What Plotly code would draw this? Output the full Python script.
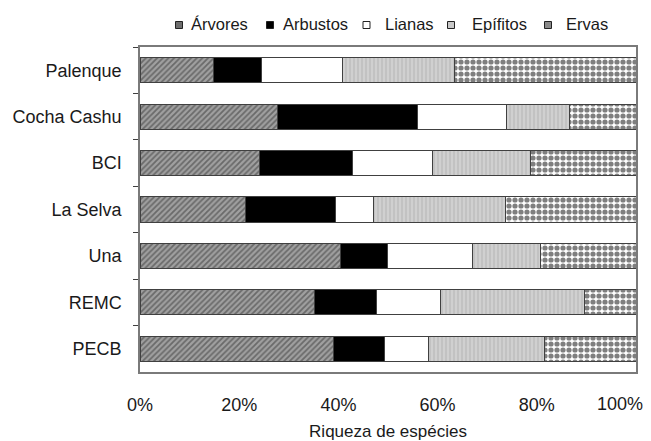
import plotly.graph_objects as go

sites = ["Palenque", "Cocha Cashu", "BCI", "La Selva", "Una", "REMC", "PECB"]
arvores = [14.8, 27.7, 24.0, 21.2, 40.4, 35.2, 39.0]
arbustos = [9.7, 28.3, 18.8, 18.2, 9.4, 12.4, 10.3]
lianas = [16.4, 17.9, 16.2, 7.6, 17.2, 12.9, 8.9]
epifitos = [22.6, 12.6, 19.8, 26.6, 13.8, 29.1, 23.3]
ervas = [36.5, 13.5, 21.2, 26.4, 19.2, 10.4, 18.5]
x_ticks = [0, 20, 40, 60, 80, 100]
x_ticktext = ["0%", "20%", "40%", "60%", "80%", "100%"]

names = ["Árvores", "Arbustos", "Lianas", "Epífitos", "Ervas"]
values = [arvores, arbustos, lianas, epifitos, ervas]
patterns = [
    dict(shape="/", fgcolor="#333333", bgcolor="#a0a0a0", size=4, solidity=0.45),
    dict(shape="", fgcolor="#000000", bgcolor="#000000"),
    dict(shape="", fgcolor="#ffffff", bgcolor="#ffffff"),
    dict(shape="|", fgcolor="#a8a8a8", bgcolor="#d0d0d0", size=4, solidity=0.35),
    dict(shape=".", fgcolor="#000000", bgcolor="#ffffff", size=6, solidity=0.6),
]
base_colors = ["#a0a0a0", "#000000", "#ffffff", "#d0d0d0", "#ffffff"]
legend_fill = ["#6e6e6e", "#000000", "#ffffff", "#c8c8c8", "#8a8a8a"]

W, H = 643, 433
ML, MR, MT, MB = 132, 15, 39, 69
PW, PH = W - ML - MR, H - MT - MB

fig = go.Figure()
for name, vals, pat, col in zip(names, values, patterns, base_colors):
    fig.add_trace(go.Bar(
        y=sites, x=vals, name=name, orientation="h", width=0.54,
        marker=dict(color=col, pattern=pat, line=dict(color="#404040", width=1)),
        showlegend=False,
    ))

# manual compact legend (figure pixel positions)
marker_x = [171, 262, 358.5, 443, 540]
text_x = [180.5, 273, 374.5, 461.5, 555.5]
leg_y = 17
for name, mx, tx, fill in zip(names, marker_x, text_x, legend_fill):
    fig.add_shape(type="rect", xref="paper", yref="paper",
                  x0=(mx - 3.5 - ML) / PW, x1=(mx + 3.5 - ML) / PW,
                  y0=1 - (leg_y + 3.5 - MT) / PH, y1=1 - (leg_y - 3.5 - MT) / PH,
                  fillcolor=fill, line=dict(color="#222222", width=1))
    fig.add_annotation(text=name, xref="paper", yref="paper",
                       x=(tx - ML) / PW, y=1 - (leg_y - 1 - MT) / PH,
                       xanchor="left", yanchor="middle", showarrow=False,
                       font=dict(size=16.5, color="#1a1a1a"))

# last tick label drawn shifted left so it stays inside the page (as in the reference)
fig.add_annotation(text=x_ticktext[-1], xref="x", x=x_ticks[-1], xanchor="right", xshift=9,
                   yref="paper", y=0, yanchor="middle", yshift=-32, showarrow=False,
                   font=dict(size=18, color="#1a1a1a"))
shown_ticktext = x_ticktext[:-1] + [""]

font = "Liberation Sans, Arial, sans-serif"
fig.update_layout(
    barmode="stack",
    width=W, height=H,
    margin=dict(l=ML, r=MR, t=MT, b=MB, autoexpand=False),
    paper_bgcolor="white", plot_bgcolor="white",
    font=dict(family=font, size=18, color="#1a1a1a"),
    showlegend=False,
)
fig.update_xaxes(range=[0, 100], tickvals=x_ticks, ticktext=shown_ticktext,
                 showgrid=False, zeroline=False, showline=True, mirror=True,
                 linecolor="#7a7a7a", linewidth=1.5, ticks="", ticklabelstandoff=16,
                 title=dict(text="Riqueza de espécies", standoff=20, font=dict(size=17)))
fig.update_yaxes(autorange="reversed", showgrid=False, showline=True, mirror=True,
                 linecolor="#7a7a7a", linewidth=1.5, ticks="outside", ticklen=5,
                 tickcolor="#404040", tickson="boundaries", ticklabelstandoff=13)

fig.write_html("out.html")
